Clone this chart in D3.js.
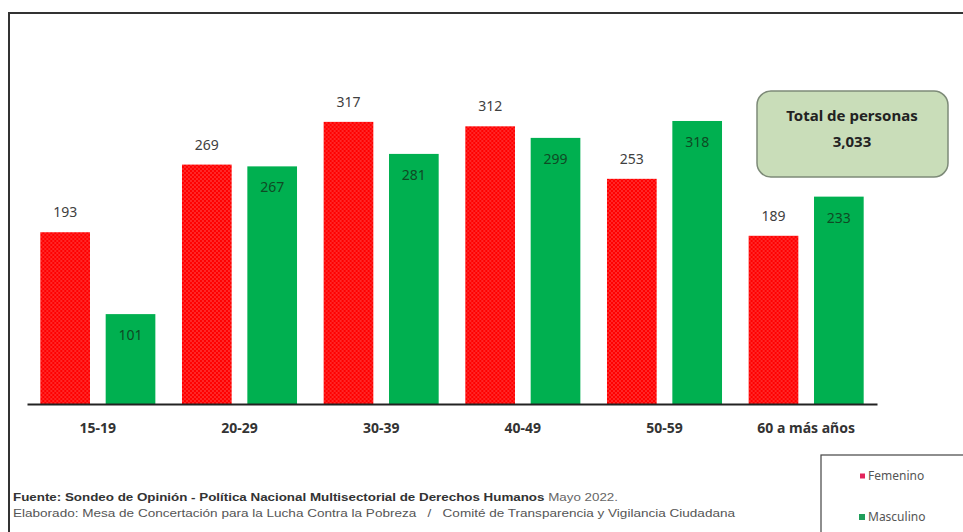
<!DOCTYPE html>
<html>
<head>
<meta charset="utf-8">
<script src="https://cdn.jsdelivr.net/npm/d3@7"></script>
<style>
  body { margin: 0; background: #fff; }
  svg { display: block; }
  .num { font-family: "Liberation Sans Narrow", "Noto Sans", sans-serif; font-size: 14px; }
  .cat { font-family: "Liberation Sans Narrow", "Noto Sans", sans-serif; font-size: 14px; font-weight: bold; fill: #333; }
  .foot { font-family: "Liberation Sans", Arial, sans-serif; font-size: 11px; fill: #333; white-space: pre; }
  .leg { font-family: "Liberation Sans Narrow", "Noto Sans", sans-serif; font-size: 12px; fill: #555; }
</style>
</head>
<body>
<div id="chart"></div>
<script>
  const categories = ['15-19', '20-29', '30-39', '40-49', '50-59', '60 a más años'];
  const femenino = [193, 269, 317, 312, 253, 189];
  const masculino = [101, 267, 281, 299, 318, 233];
  const totalLabel = 'Total de personas';
  const totalValue = '3,033';
  const seriesNames = ['Femenino', 'Masculino'];

  const W = 963, H = 532;
  const red = '#ff0000', green = '#00b050';

  const data = categories.map((c, i) => ({cat: c, values: [femenino[i], masculino[i]]}));

  const svg = d3.select('#chart').append('svg')
    .attr('width', W)
    .attr('height', H);

  // dotted texture for the red bars
  const pat = svg.append('defs').append('pattern')
    .attr('id', 'dots')
    .attr('patternUnits', 'userSpaceOnUse')
    .attr('width', 4)
    .attr('height', 4);
  pat.append('rect').attr('width', 4).attr('height', 4).attr('fill', red);
  pat.append('circle').attr('cx', 1).attr('cy', 1).attr('r', 0.7).attr('fill', '#ff6a6a');
  pat.append('circle').attr('cx', 3).attr('cy', 3).attr('r', 0.7).attr('fill', '#ff6a6a');

  // outer frame
  svg.append('rect')
    .attr('x', 9).attr('y', 13)
    .attr('width', 1000).attr('height', 600)
    .attr('fill', 'none')
    .attr('stroke', '#333')
    .attr('stroke-width', 2);

  const x0 = d3.scaleBand()
    .domain(categories)
    .range([27, 877])
    .paddingInner(0.188)
    .paddingOuter(0.094);

  const x1 = d3.scaleBand()
    .domain([0, 1])
    .range([0, x0.bandwidth()])
    .paddingInner(0.24);

  const y = d3.scaleLinear()
    .domain([0, 350])
    .range([404, 404 - 350 * 0.89]);

  const groups = svg.selectAll('.bar-group')
    .data(data)
    .enter().append('g')
      .attr('class', 'bar-group')
      .attr('transform', d => `translate(${x0(d.cat)},0)`);

  groups.selectAll('rect')
    .data(d => d.values)
    .enter().append('rect')
      .attr('x', (d, i) => x1(i))
      .attr('y', d => y(d))
      .attr('width', x1.bandwidth())
      .attr('height', d => y(0) - y(d))
      .attr('fill', (d, i) => i === 0 ? 'url(#dots)' : green);

  groups.selectAll('.num')
    .data(d => d.values)
    .enter().append('text')
      .attr('class', 'num')
      .attr('text-anchor', 'middle')
      .attr('x', (d, i) => x1(i) + x1.bandwidth() / 2)
      .attr('y', (d, i) => i === 0 ? y(d) - 15 : y(d) + 26)
      .attr('fill', (d, i) => i === 0 ? '#404040' : '#0f4a24')
      .text(d => d);

  // x axis
  const xAxis = d3.axisBottom(x0).tickSize(0).tickPadding(0);
  const ax = svg.append('g')
    .attr('transform', `translate(0,${y(0)})`)
    .call(xAxis);
  ax.select('.domain').attr('stroke', '#222').attr('stroke-width', 2);
  ax.selectAll('.tick text')
    .attr('class', 'cat')
    .attr('dy', null)
    .attr('y', 29);

  // total box
  const tb = svg.append('g');
  tb.append('rect')
    .attr('x', 757).attr('y', 91)
    .attr('width', 191).attr('height', 86)
    .attr('rx', 14)
    .attr('fill', '#c9ddb9')
    .attr('stroke', '#7d8a78')
    .attr('stroke-width', 1.5);
  tb.append('text')
    .attr('x', 852).attr('y', 121)
    .attr('text-anchor', 'middle')
    .attr('font-family', '"Liberation Sans Narrow", "Noto Sans", sans-serif')
    .attr('font-size', 15).attr('font-weight', 'bold').attr('fill', '#222')
    .text(totalLabel);
  tb.append('text')
    .attr('x', 852).attr('y', 147)
    .attr('text-anchor', 'middle')
    .attr('font-family', '"Liberation Sans Narrow", "Noto Sans", sans-serif')
    .attr('font-size', 15).attr('font-weight', 'bold').attr('fill', '#222')
    .text(totalValue);

  // footnotes
  const f1 = svg.append('text')
    .attr('class', 'foot')
    .attr('x', 13).attr('y', 501)
    .attr('textLength', 605)
    .attr('lengthAdjust', 'spacingAndGlyphs');
  f1.append('tspan').attr('font-weight', 'bold')
    .text('Fuente: Sondeo de Opinión - Política Nacional Multisectorial de Derechos Humanos');
  f1.append('tspan').attr('fill', '#666').text(' Mayo 2022.');

  svg.append('text')
    .attr('class', 'foot')
    .attr('x', 13).attr('y', 517)
    .attr('textLength', 722)
    .attr('lengthAdjust', 'spacingAndGlyphs')
    .style('fill', '#555')
    .text('Elaborado: Mesa de Concertación para la Lucha Contra la Pobreza   /   Comité de Transparencia y Vigilancia Ciudadana');

  // legend
  const lg = svg.append('g');
  lg.append('rect')
    .attr('x', 821).attr('y', 455)
    .attr('width', 200).attr('height', 120)
    .attr('fill', '#fff')
    .attr('stroke', '#444')
    .attr('stroke-width', 1.2);
  const items = lg.selectAll('.leg-item')
    .data(seriesNames)
    .enter().append('g')
      .attr('transform', (d, i) => `translate(862,${476 + i * 41})`);
  items.append('rect')
    .attr('x', (d, i) => i === 0 ? -2 : -3)
    .attr('y', (d, i) => i === 0 ? -2.5 : -3)
    .attr('width', (d, i) => i === 0 ? 5 : 6)
    .attr('height', (d, i) => i === 0 ? 5 : 6)
    .attr('fill', (d, i) => i === 0 ? '#e3245a' : '#1f9e5a');
  items.append('text')
    .attr('class', 'leg')
    .attr('x', 6).attr('y', 4)
    .text(d => d);
</script>
</body>
</html>
